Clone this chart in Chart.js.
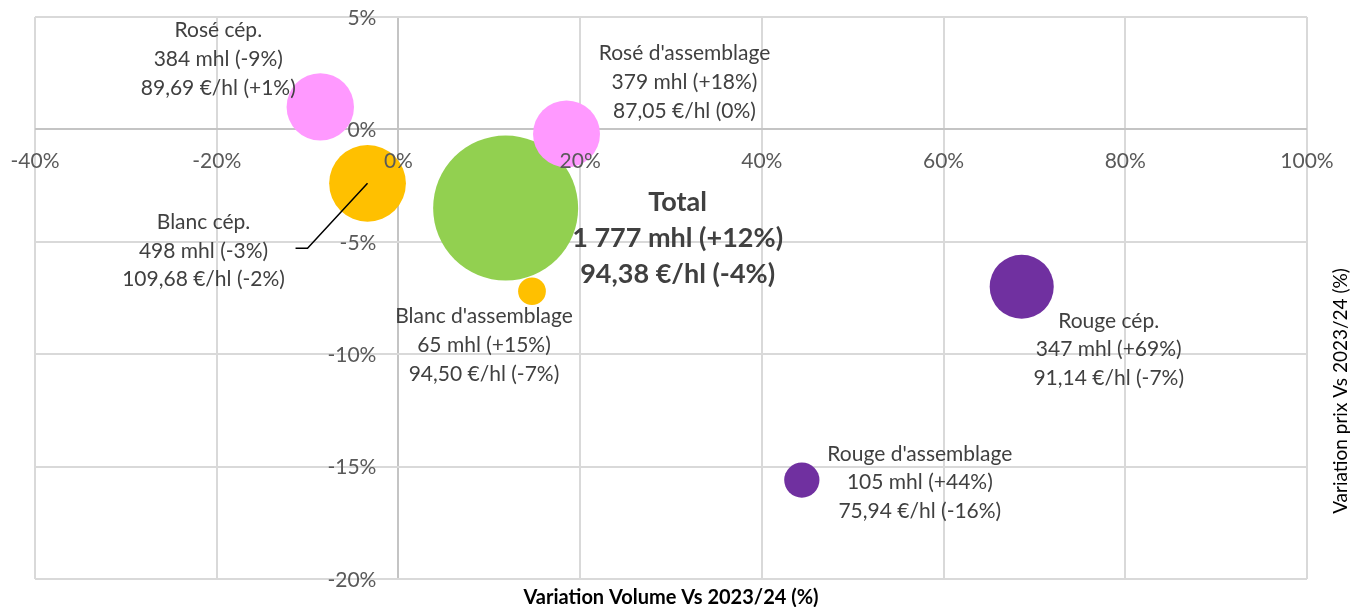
<!DOCTYPE html>
<html lang="fr">
<head>
<meta charset="utf-8">
<title>Variation volume / prix</title>
<script src="https://cdn.jsdelivr.net/npm/chart.js@4.4.1/dist/chart.umd.min.js"></script>
<style>
  html, body { margin: 0; padding: 0; background: #fff; }
  #wrap { width: 1352px; height: 607px; position: relative; }
</style>
</head>
<body>
<div id="wrap"><canvas id="chart"></canvas></div>
<script>
// --- données ---
const categories = ['Total', 'Rosé cép.', "Rosé d'assemblage", 'Blanc cép.', "Blanc d'assemblage", 'Rouge cép.', "Rouge d'assemblage"];
const volumeVar = [11.8, -8.6, 18.5, -3.4, 14.7, 68.6, 44.4];      // axe X (%)
const priceVar = [-3.5, 1.0, -0.2, -2.4, -7.2, -7.0, -15.6];        // axe Y (%)
const volumes = [1777, 384, 379, 498, 65, 347, 105];                // mhl
const volumeVarLabel = [12, -9, 18, -3, 15, 69, 44];                // % affichés
const prices = [94.38, 89.69, 87.05, 109.68, 94.50, 91.14, 75.94];  // €/hl
const priceVarLabel = [-4, 1, 0, -2, -7, -7, -16];                  // % affichés
const xTicks = [-40, -20, 0, 20, 40, 60, 80, 100];
const yTicks = [5, 0, -5, -10, -15, -20];

// --- styles ---
const colors = ['#92D050', '#FF99FF', '#FF99FF', '#FFC000', '#FFC000', '#7030A0', '#7030A0'];
const FONT = 'Lato, "Open Sans", sans-serif';
const RADIUS_K = 1.72;
// décalage du libellé (centre de la 1re ligne) par rapport au centre de la bulle, interligne, gras
const labelLayout = [
  { dx: 172, dy: -6, lh: 36, bold: true },
  { dx: -102, dy: -77, lh: 29 },
  { dx: 118, dy: -81, lh: 29 },
  { dx: -164, dy: 39, lh: 28.5, leader: [[-60, 65], [-72, 65]] },
  { dx: -48, dy: 25, lh: 29 },
  { dx: 87, dy: 34, lh: 28.5 },
  { dx: 118, dy: -26, lh: 28.5 }
];

function pct(v) {
  return (v > 0 ? '+' : '') + v + '%';
}

function fmtVolume(v) {
  return String(v).replace(/\B(?=(\d{3})+(?!\d))/g, ' ');
}

function fmtPrice(v) {
  return v.toFixed(2).replace('.', ',');
}

const points = categories.map((c, i) => ({
  x: volumeVar[i],
  y: priceVar[i],
  r: RADIUS_K * Math.sqrt(volumes[i])
}));

// libellés des ticks dessinés sur les axes qui se croisent à 0
const crossTicksPlugin = {
  id: 'crossTicks',
  afterDatasetsDraw(chart) {
    const { ctx, scales: { x, y } } = chart;
    const x0 = x.getPixelForValue(0);
    const y0 = y.getPixelForValue(0);
    ctx.save();
    ctx.fillStyle = '#595959';
    ctx.font = '21px ' + FONT;
    ctx.textBaseline = 'middle';
    ctx.textAlign = 'center';
    xTicks.forEach(v => ctx.fillText(v + '%', x.getPixelForValue(v), y0 + 32));
    ctx.textAlign = 'right';
    yTicks.forEach(v => ctx.fillText(v + '%', x0 - 22, y.getPixelForValue(v) + 1));
    ctx.restore();
  }
};

// libellés des bulles + titres des axes
const bubbleLabelsPlugin = {
  id: 'bubbleLabels',
  afterDatasetsDraw(chart) {
    const { ctx } = chart;
    const meta = chart.getDatasetMeta(0);
    ctx.save();
    meta.data.forEach((el, i) => {
      const lay = labelLayout[i];
      if (lay.leader) {
        ctx.strokeStyle = '#000';
        ctx.lineWidth = 1.5;
        ctx.beginPath();
        ctx.moveTo(el.x, el.y);
        lay.leader.forEach(p => ctx.lineTo(el.x + p[0], el.y + p[1]));
        ctx.stroke();
      }
      const lines = [
        categories[i],
        fmtVolume(volumes[i]) + ' mhl (' + pct(volumeVarLabel[i]) + ')',
        fmtPrice(prices[i]) + ' €/hl (' + pct(priceVarLabel[i]) + ')'
      ];
      ctx.fillStyle = '#404040';
      ctx.font = (lay.bold ? 'bold 27px ' : '21px ') + FONT;
      ctx.textAlign = 'center';
      ctx.textBaseline = 'middle';
      lines.forEach((t, k) => ctx.fillText(t, el.x + lay.dx, el.y + lay.dy + k * lay.lh));
    });

    ctx.fillStyle = '#000';
    ctx.font = 'bold 20px ' + FONT;
    ctx.textAlign = 'center';
    ctx.fillText('Variation Volume Vs 2023/24 (%)', 671, 598);
    ctx.translate(1341, 391);
    ctx.rotate(-Math.PI / 2);
    ctx.font = '19px ' + FONT;
    ctx.fillText('Variation prix Vs 2023/24 (%)', 0, 0);
    ctx.restore();
  }
};

const gridColor = ctx => (ctx.tick && ctx.tick.value === 0 ? '#c4c4c4' : '#d9d9d9');

new Chart(document.getElementById('chart'), {
  type: 'bubble',
  data: {
    datasets: [{
      data: points,
      backgroundColor: colors,
      borderWidth: 0,
      hoverBorderWidth: 0,
      clip: false
    }]
  },
  options: {
    responsive: true,
    maintainAspectRatio: false,
    animation: false,
    layout: { autoPadding: false, padding: { left: 35, right: 45, top: 17, bottom: 28 } },
    plugins: {
      legend: { display: false },
      tooltip: { enabled: false }
    },
    scales: {
      x: {
        type: 'linear',
        min: -40,
        max: 100,
        afterBuildTicks: s => { s.ticks = xTicks.map(v => ({ value: v })); },
        ticks: { display: false },
        grid: { color: gridColor, lineWidth: 2, drawTicks: false },
        border: { display: false }
      },
      y: {
        type: 'linear',
        min: -20,
        max: 5,
        afterBuildTicks: s => { s.ticks = yTicks.map(v => ({ value: v })); },
        ticks: { display: false },
        grid: { color: gridColor, lineWidth: 2, drawTicks: false },
        border: { display: false }
      }
    }
  },
  plugins: [crossTicksPlugin, bubbleLabelsPlugin]
});
</script>
</body>
</html>
